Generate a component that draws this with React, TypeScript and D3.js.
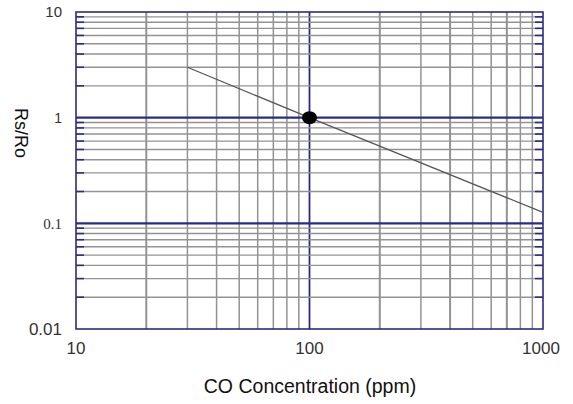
import React from "react";
import { scaleLog, line } from "d3";

// sensitivity curve: CO concentration (ppm) vs Rs/Ro
const coPpm = [30, 100, 1000];
const rsRo = [3, 1, 0.127];
const markerPoint = [100, 1];

const xTickLabels = ["10", "100", "1000"];
const yTickLabels = ["0.01", "0.1", "1", "10"];

const W = 573;
const H = 404;
const blue = "#2b2b86";
const grid = "#939393";

const isDecade = (v: number) => Math.abs(Math.log10(v) - Math.round(Math.log10(v))) < 1e-9;

const App = () => {
  const x = scaleLog().domain([10, 1000]).range([76, 543]);
  const y = scaleLog().domain([0.01, 10]).range([329, 12]);

  const xt = x.ticks();
  const yt = y.ticks();

  const path = line<number>()
    .x((d) => x(d))
    .y((d, i) => y(rsRo[i]))(coPpm);

  const [x0, x1] = x.range();
  const [y0, y1] = y.range();

  // label tweaks, the source image uses uneven sizes
  const yLabelStyle: Record<string, any> = {
    "10": { size: 15, family: "Liberation Sans, Arial, sans-serif" },
    "1": { size: 14, family: "Liberation Sans, Arial, sans-serif" },
    "0.1": { size: 15, family: "Liberation Serif, serif" },
    "0.01": { size: 17, family: "Liberation Sans, Arial, sans-serif" },
  };

  return (
    <svg
      width={W}
      height={H}
      style={{ position: "absolute", left: 0, top: 0, background: "#fff" }}
    >
      {/* vertical grid */}
      {xt.map((v) => {
        const major = isDecade(v) && v !== 10 && v !== 1000;
        if (v === 10 || v === 1000) return null;
        return (
          <line
            key={"vx" + v}
            x1={x(v)}
            x2={x(v)}
            y1={y1}
            y2={y0}
            stroke={major ? blue : grid}
            strokeWidth={major ? 1.8 : [20, 200, 400, 700].includes(Math.round(v)) ? 2 : 1.5}
          />
        );
      })}
      {/* horizontal grid */}
      {yt.map((v) => {
        if (v <= 0.01 + 1e-12 || v >= 10 - 1e-9) return null;
        const major = isDecade(v);
        return (
          <g key={"hy" + v}>
            <line
              x1={x0}
              x2={x1}
              y1={y(v)}
              y2={y(v)}
              stroke={major ? blue : grid}
              strokeWidth={major ? 2.2 : 1.4}
            />
            {!major && (
              <>
                <line x1={x0} x2={x0 + 8} y1={y(v)} y2={y(v)} stroke={blue} strokeWidth={1.6} />
                <line x1={x1 - 8} x2={x1} y1={y(v)} y2={y(v)} stroke={blue} strokeWidth={1.6} />
              </>
            )}
          </g>
        );
      })}
      {/* frame */}
      <rect
        x={x0}
        y={y1}
        width={x1 - x0}
        height={y0 - y1}
        fill="none"
        stroke={blue}
        strokeWidth={1.6}
      />

      {/* curve */}
      <path d={path || ""} fill="none" stroke="#555" strokeWidth={1.2} />
      <ellipse cx={x(markerPoint[0])} cy={y(markerPoint[1])} rx={7.5} ry={6.5} fill="#000" />

      {/* y tick labels */}
      {yTickLabels.map((t) => {
        const s = yLabelStyle[t];
        return (
          <text
            key={"yl" + t}
            x={62}
            y={y(+t)}
            dy="0.35em"
            textAnchor="end"
            fontFamily={s.family}
            fontSize={s.size}
            fill="#333"
          >
            {t}
          </text>
        );
      })}
      {/* x tick labels */}
      {xTickLabels.map((t) => (
        <text
          key={"xl" + t}
          x={t === "1000" ? x(+t) - 2 : x(+t)}
          y={354}
          textAnchor="middle"
          fontFamily="Liberation Sans, Arial, sans-serif"
          fontSize={17}
          fill="#333"
        >
          {t}
        </text>
      ))}

      {/* axis titles */}
      <text
        transform={`translate(15, 133) rotate(90)`}
        textAnchor="middle"
        fontFamily="Liberation Sans, Arial, sans-serif"
        fontSize={18}
        fill="#111"
      >
        Rs/Ro
      </text>
      <text
        x={310}
        y={393}
        textAnchor="middle"
        fontFamily="Liberation Sans, Arial, sans-serif"
        fontSize={19.5}
        fill="#111"
      >
        CO Concentration (ppm)
      </text>
    </svg>
  );
};

export default App;
